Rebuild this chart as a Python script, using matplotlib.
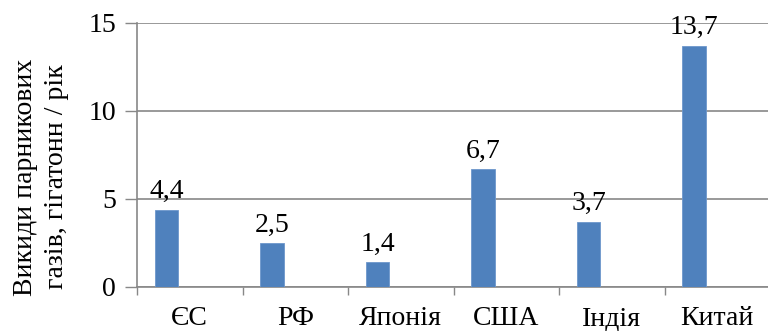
import matplotlib.pyplot as plt
import numpy as np

# emissions by region, gigatonnes per year
regions = ["ЄС", "РФ", "Японія", "США", "Індія", "Китай"]
emissions = [4.4, 2.5, 1.4, 6.7, 3.7, 13.7]
yticks = [0, 5, 10, 15]

FONT = "Liberation Serif"
plt.rcParams['font.family'] = [FONT, 'DejaVu Serif']

fig = plt.figure(figsize=(7.68, 3.31), dpi=100)
ax = fig.add_axes([137/768, 44/331, 633/768, 264/331])

x = np.arange(len(regions))
bar_w = 0.22
ax.bar(x - 0.22, emissions, width=bar_w, color="#4F81BD", edgecolor="#6D97CC", linewidth=0.6, zorder=3)

for xi, v in zip(x, emissions):
    ax.annotate(f"{v:.1f}".replace(".", ","), (xi - 0.22, v), xytext=(0, 4),
                textcoords="offset points", ha="center", va="bottom",
                fontsize=20, family=FONT)

ax.set_xlim(-0.5, len(regions) - 0.5)
ax.set_ylim(0, 15)
ax.set_yticks(yticks)
ax.set_yticklabels([str(t) for t in yticks], fontsize=20, family=FONT)
ax.set_xticks(x)
ax.set_xticklabels(regions, fontsize=20, family=FONT)
ax.set_xticks(np.arange(-0.5, len(regions), 1), minor=True)
ax.tick_params(axis="x", which="major", length=0, pad=14)
ax.tick_params(axis="x", which="minor", length=6, color="#888888", width=1)
ax.tick_params(axis="y", length=9, color="#888888", width=1, pad=6)

ax.grid(axis="y", color="#888888", linewidth=1.2, zorder=0)
for s in ["top", "right"]:
    ax.spines[s].set_visible(False)
for s in ["left", "bottom"]:
    ax.spines[s].set_color("#888888")
    ax.spines[s].set_linewidth(1.2)

fig.text(41/768, 1 - 177/331, "Викиди парникових\nгазів, гігатонн / рік", rotation=90,
         ha="center", va="center", fontsize=20, linespacing=1.35, family=FONT)

fig.savefig("out.png", dpi=100)
